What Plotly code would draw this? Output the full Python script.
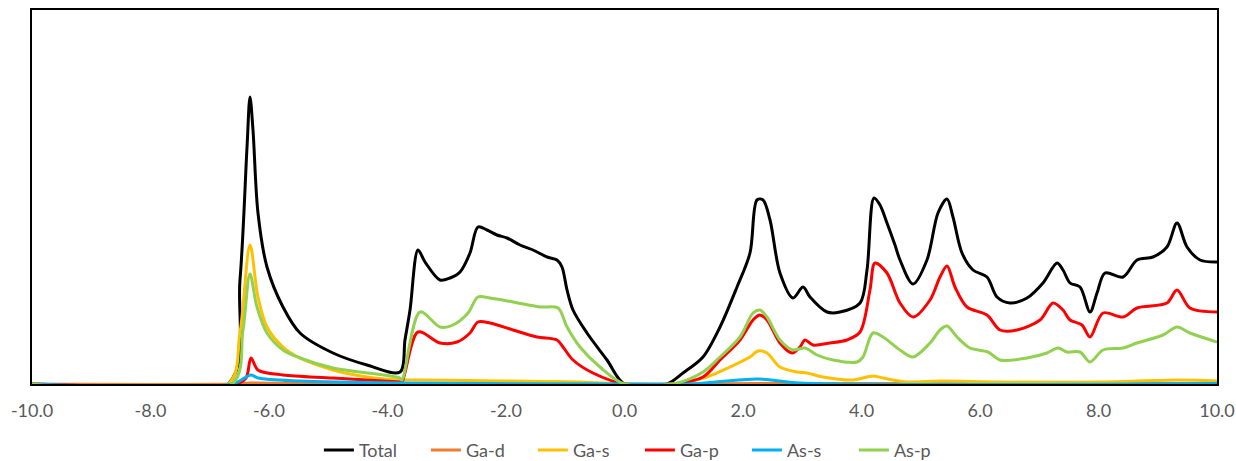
import plotly.graph_objects as go

# Energy (eV) and DOS values (arbitrary units)
total_x = [-10.0, -6.692, -6.49, -6.371, -6.321, -6.27, -6.186, -6.034, -5.764, -5.477, -4.92, -4.346, -3.789,
           -3.705, -3.62, -3.485, -3.367, -3.114, -2.945, -2.776, -2.608, -2.473, -2.321, -2.152, -1.983, -1.764,
           -1.544, -1.308, -1.139, -1.055, -0.97, -0.869, -0.633, -0.295, 0.0, 0.717, 0.987, 1.325, 1.612, 1.899,
           2.118, 2.236, 2.338, 2.456, 2.624, 2.844, 3.013, 3.131, 3.418, 3.637, 3.975, 4.093, 4.211, 4.312, 4.43,
           4.565, 4.65, 4.869, 5.105, 5.291, 5.443, 5.544, 5.696, 5.882, 6.118, 6.287, 6.506, 6.793, 7.063, 7.3,
           7.401, 7.519, 7.688, 7.857, 7.975, 8.11, 8.414, 8.65, 8.92, 9.156, 9.325, 9.494, 9.713, 10.0]
total_y = [0.0, 0.0, 10.4, 23.7, 28.7, 25.4, 17.1, 11.7, 7.7, 5.1, 3.1, 1.9, 1.2,
           4.4, 7.4, 13.4, 12.2, 10.4, 10.6, 11.2, 13.1, 15.7, 15.4, 14.9, 14.6, 13.9,
           13.4, 12.7, 12.4, 11.7, 9.4, 7.4, 5.1, 2.4, 0.0, 0.0, 1.1, 2.7, 5.7, 9.7,
           13.1, 18.4, 18.4, 16.4, 11.1, 8.6, 9.7, 8.7, 7.2, 7.2, 8.1, 11.4, 18.6, 17.9, 16.1,
           13.9, 12.4, 10.0, 12.4, 17.1, 18.5, 16.7, 13.1, 11.4, 10.7, 8.7, 8.1, 8.6, 10.1, 12.1,
           11.4, 10.1, 9.7, 7.2, 9.1, 11.1, 10.7, 12.4, 12.7, 13.7, 16.1, 13.7, 12.4, 12.2]

gad_x = [-10.0, -6.6, -6.3, -5.5, -3.8, 0.0, 0.8, 2.3, 10.0]
gad_y = [0.0, 0.0, 0.1, 0.05, 0.05, 0.0, 0.0, 0.05, 0.05]

gas_x = [-10.0, -6.692, -6.49, -6.321, -6.186, -6.034, -5.764, -5.477, -4.92, -4.346, -3.789, -3.451, -2.101,
         -0.751, 0.0, 0.819, 1.392, 1.781, 2.118, 2.253, 2.405, 2.624, 2.911, 3.08, 3.35, 3.857, 4.194, 4.363,
         4.768, 5.325, 6.338, 8.025, 9.325, 10.0]
gas_y = [0.0, 0.0, 5.1, 13.9, 8.7, 5.7, 3.7, 2.6, 1.4, 0.7, 0.4, 0.4, 0.3,
         0.2, 0.0, 0.0, 0.7, 1.7, 2.7, 3.3, 3.1, 1.7, 1.2, 1.1, 0.7, 0.4, 0.8, 0.6,
         0.2, 0.3, 0.2, 0.2, 0.4, 0.3]

gap_x = [-10.0, -6.557, -6.388, -6.304, -6.186, -5.764, -4.92, -3.789, -3.755, -3.485, -3.114, -2.827, -2.608,
         -2.473, -2.27, -1.882, -1.477, -1.139, -1.038, -0.869, -0.532, 0.0, 0.819, 1.325, 1.612, 1.949, 2.169,
         2.287, 2.405, 2.624, 2.827, 2.962, 3.046, 3.181, 3.468, 3.755, 3.975, 4.143, 4.228, 4.43, 4.65, 4.869,
         5.156, 5.325, 5.443, 5.578, 5.781, 6.118, 6.338, 6.624, 7.013, 7.232, 7.401, 7.519, 7.722, 7.857, 8.076,
         8.414, 8.65, 9.156, 9.325, 9.544, 10.0]
gap_y = [0.0, 0.0, 0.6, 2.6, 1.4, 0.9, 0.6, 0.2, 0.2, 5.2, 4.1, 4.2, 5.1,
         6.2, 6.1, 5.4, 4.7, 4.4, 3.7, 2.4, 1.1, 0.0, 0.0, 0.7, 2.4, 4.4, 6.4,
         6.9, 6.4, 4.1, 3.1, 3.7, 4.4, 3.9, 4.1, 4.4, 5.2, 9.4, 12.1, 11.1, 8.1, 6.7,
         8.4, 10.7, 11.8, 9.7, 7.7, 6.9, 5.4, 5.4, 6.4, 8.1, 7.4, 6.4, 5.9, 4.7, 7.1,
         6.7, 7.6, 8.1, 9.4, 7.6, 7.2]

ass_x = [-10.0, -6.624, -6.304, -6.186, -5.477, -3.789, 0.0, 1.105, 2.253, 2.962, 10.0]
ass_y = [0.0, 0.0, 0.9, 0.6, 0.3, 0.1, 0.0, 0.0, 0.5, 0.1, 0.05]

asp_x = [-10.0, -6.624, -6.439, -6.321, -6.203, -6.034, -5.764, -5.477, -4.92, -3.789, -3.755, -3.451, -3.114,
         -2.894, -2.641, -2.473, -2.27, -1.882, -1.426, -1.122, -0.97, -0.751, -0.414, 0.0, 0.819, 1.325, 1.612,
         1.949, 2.169, 2.287, 2.405, 2.624, 2.844, 3.046, 3.249, 3.519, 3.924, 4.025, 4.194, 4.363, 4.65, 4.869,
         5.156, 5.325, 5.443, 5.612, 5.831, 6.135, 6.338, 6.793, 7.131, 7.316, 7.468, 7.688, 7.857, 8.076, 8.414,
         8.65, 9.089, 9.325, 9.544, 10.0]
asp_y = [0.0, 0.0, 5.4, 11.0, 7.7, 5.1, 3.4, 2.6, 1.6, 0.6, 0.4, 7.2, 5.7,
         5.9, 7.1, 8.7, 8.6, 8.2, 7.7, 7.6, 5.7, 3.7, 1.7, 0.0, 0.0, 1.2, 2.7,
         4.7, 7.1, 7.4, 6.7, 4.4, 3.4, 3.6, 2.9, 2.4, 2.2, 2.7, 5.1, 4.7, 3.4, 2.7,
         4.1, 5.4, 5.8, 4.7, 3.6, 3.2, 2.4, 2.6, 3.1, 3.6, 3.2, 3.2, 2.2, 3.4, 3.6,
         4.1, 4.9, 5.7, 5.1, 4.2]

x_ticks = [-10, -8, -6, -4, -2, 0, 2, 4, 6, 8, 10]
x_tick_labels = ["-10.0", "-8.0", "-6.0", "-4.0", "-2.0", "0.0", "2.0", "4.0", "6.0", "8.0", "10.0"]

series = [
    ("Total", total_x, total_y, "#000000"),
    ("Ga-d", gad_x, gad_y, "#ED7D31"),
    ("Ga-s", gas_x, gas_y, "#FFC000"),
    ("Ga-p", gap_x, gap_y, "#FF0000"),
    ("As-s", ass_x, ass_y, "#00B0F0"),
    ("As-p", asp_x, asp_y, "#92D050"),
]

fig = go.Figure()
for name, xs, ys, color in series:
    fig.add_trace(go.Scatter(
        x=xs, y=ys, name=name, mode="lines",
        line=dict(color=color, width=3, shape="spline", smoothing=0.9),
    ))

fig.update_layout(
    width=1236, height=461,
    margin=dict(l=32, r=19, t=10, b=77, autoexpand=False),
    paper_bgcolor="white", plot_bgcolor="white",
    font=dict(family="Lato, 'Open Sans', sans-serif", size=18, color="#595959"),
    showlegend=True,
    legend=dict(orientation="h", x=0.513, xanchor="center",
                y=-0.177, yanchor="middle",
                font=dict(size=18, color="#595959"), entrywidth=62, tracegroupgap=0),
)
fig.update_xaxes(
    range=[-10, 10], tickvals=x_ticks, ticktext=x_tick_labels,
    showgrid=False, zeroline=False, showline=True, linecolor="black", linewidth=1.5,
    mirror=True, ticks="", ticklabelstandoff=10,
)
fig.update_yaxes(
    range=[0, 37.4], showgrid=False, zeroline=False, showline=True, linecolor="black",
    linewidth=1.5, mirror=True, showticklabels=False, ticks="",
)

fig.write_html("out.html", config={"displayModeBar": False},
               post_script="document.body.style.margin='0';")
